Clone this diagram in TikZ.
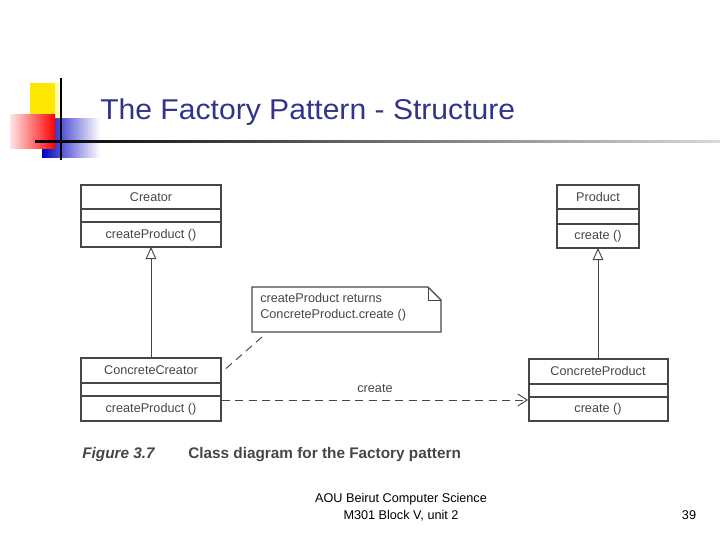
\documentclass[tikz,border=0pt]{standalone}
\usepackage{fontspec}
\setmainfont{Liberation Sans}
\usetikzlibrary{arrows.meta}
\definecolor{titleblue}{RGB}{51,51,140}
\definecolor{umlgray}{RGB}{70,70,70}
\tikzset{
  box/.style={draw=umlgray,line width=0.8pt},
  txt/.style={font=\fontsize{9.5}{11}\selectfont,text=umlgray,inner sep=0pt},
  inherit/.style={draw=umlgray,line width=0.7pt,-{Triangle[open,length=9pt,width=8pt]}},
  dep/.style={draw=umlgray,line width=0.7pt,dash pattern=on 6pt off 4pt},
}
\begin{document}
\begin{tikzpicture}[x=0.75pt,y=-0.75pt]
\useasboundingbox (0,0) rectangle (720,540);
% logo
\shade[left color=yellow!90!orange,right color=yellow!20] (30,83) rectangle (62,118);
\fill[yellow!90!orange] (30,83) rectangle (55,118);
\shade[left color=blue!75!black,right color=white] (42,118) rectangle (100,157);
\shade[left color=red!10,right color=red] (10,114) rectangle (55,148);
\draw[line width=1.6pt] (61,78) -- (61,160);
\shade[left color=black,right color=gray!30] (35,140) rectangle (720,142.5);
% title
\node[anchor=west,text=titleblue,font=\fontsize{21.5}{26}\selectfont,inner sep=0pt,xscale=1.05] (title) at (100,112) {The Factory Pattern - Structure};
% classes
\draw[box] (81,185) rectangle (221,247) (81,209) -- (221,209) (81,222) -- (221,222);
\node[txt] (creator) at (151,197) {Creator};
\node[txt] (creatorop) at (151,235) {createProduct ()};
\draw[box] (557,185) rectangle (639,248) (557,209) -- (639,209) (557,224) -- (639,224);
\node[txt] (product) at (598,197) {Product};
\node[txt] (productop) at (598,236) {create ()};
\draw[box] (81,358) rectangle (221,421) (81,383) -- (221,383) (81,396) -- (221,396);
\node[txt] (ccreator) at (151,370) {ConcreteCreator};
\node[txt] (ccreatorop) at (151,409) {createProduct ()};
\draw[box] (529,359) rectangle (668,421) (529,384) -- (668,384) (529,397) -- (668,397);
\node[txt] (cproduct) at (598,371) {ConcreteProduct};
\node[txt] (cproductop) at (598,409) {create ()};
% note
\draw[box] (252,287) -- (428,287) -- (441,300) -- (441,332) -- (252,332) -- cycle;
\draw[umlgray,line width=0.7pt] (428,287) -- (428,300) -- (441,300);
\node[txt,align=left,anchor=north west] (note) at (260,293) {createProduct returns\\[1pt]ConcreteProduct.create ()};
% connectors
\coordinate (cb) at (151,247); \coordinate (ct) at (151,358);
\coordinate (pb) at (598,248); \coordinate (pt) at (598,359);
\draw[inherit] (ct) -- (cb);
\draw[inherit] (pt) -- (pb);
\coordinate (ccr) at (222,400); \coordinate (cpl) at (528,400);
\draw[dep,-{Straight Barb[length=7pt,width=9pt]}] (ccr) -- node[txt,above=5pt] {create} (cpl);
\coordinate (nl) at (262,337); \coordinate (ccn) at (222,372);
\draw[dep] (nl) -- (ccn);
% caption
\node[anchor=west,font=\bfseries\itshape\fontsize{11.5}{13}\selectfont,text=umlgray,inner sep=0pt] (fig) at (82,455) {Figure 3.7};
\node[anchor=west,font=\bfseries\fontsize{11.5}{13}\selectfont,text=umlgray,inner sep=0pt] (cap) at (188,455) {Class diagram for the Factory pattern};
% footer
\node[align=center,font=\fontsize{9.5}{12.5}\selectfont,inner sep=0pt] (foot) at (401,507) {AOU Beirut Computer Science\\M301 Block V, unit 2};
\node[font=\fontsize{9.5}{12}\selectfont,inner sep=0pt] (page) at (689,515) {39};
\end{tikzpicture}
\end{document}
